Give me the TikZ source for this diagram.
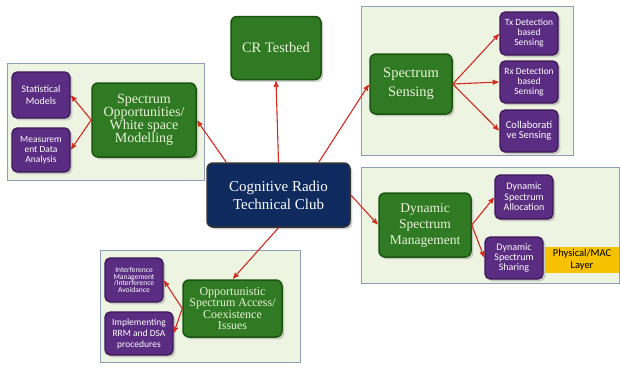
\documentclass[tikz,border=0pt]{standalone}
\usepackage{fontspec}
\setmainfont{Liberation Serif}
\setsansfont{Carlito}
\usepackage{xcolor}
\usetikzlibrary{shapes.misc, positioning, arrows, shadows}
\definecolor{panelfill}{HTML}{EEF4E2}
\definecolor{panelline}{HTML}{8E9DB9}
\definecolor{boxgreen}{HTML}{2F7A22}
\definecolor{greenline}{HTML}{1C5512}
\definecolor{greentext}{HTML}{EAF2DC}
\definecolor{boxpurple}{HTML}{5A2C82}
\definecolor{purpleline}{HTML}{3A1858}
\definecolor{boxnavy}{HTML}{0E2A5E}
\definecolor{arrowred}{HTML}{D42A1E}
\definecolor{layeryellow}{HTML}{F6C200}

\begin{document}
\begin{tikzpicture}[x=1pt,y=-1pt,>=stealth',shorten >=1pt,
        every node/.style={align=center,inner sep=2pt}]
        \tikzstyle{panel}=[draw=panelline,fill=panelfill,line width=1pt]
        \tikzstyle{greenbox}=[rectangle,rounded corners=6pt,fill=boxgreen,draw=greenline,line width=1.5pt,
                text=greentext,drop shadow={opacity=0.35}]
        \tikzstyle{purplebox}=[rectangle,rounded corners=5pt,fill=boxpurple,draw=purpleline,line width=1.2pt,
                text=white,font=\sffamily\fontsize{9.5}{10}\selectfont,drop shadow={opacity=0.35}]
        \tikzstyle{link}=[->,draw=arrowred,line width=1.1pt]
        \useasboundingbox[fill=white] (0,0) rectangle (620,370);

        % panels
        \draw[panel] (7,63) rectangle (204,180);
        \draw[panel] (361,6) rectangle (573,155);
        \draw[panel] (361,167) rectangle (619,283);
        \draw[panel] (100,250) rectangle (300,362);

        % centre
        \node[greenbox,fill=boxnavy,draw=black!80,text=white,minimum width=143pt,minimum height=64pt,
              font=\fontsize{15}{18}\selectfont](club) at (278.5,195){Cognitive Radio\\Technical Club};
        \node[greenbox,minimum width=90pt,minimum height=63pt,font=\fontsize{14.5}{17}\selectfont](test) at (276,48){CR Testbed};

        % white space modelling
        \node[greenbox,minimum width=104pt,minimum height=74pt,font=\fontsize{14}{13}\selectfont](opp) at (144,120)
              {Spectrum\\Opportunities/\\White space\\Modelling};
        \node[purplebox,minimum width=58pt,minimum height=46pt,font=\sffamily\fontsize{10}{12}\selectfont](stat) at (41,95)
              {Statistical\\Models};
        \node[purplebox,minimum width=58pt,minimum height=44pt](meas) at (41,150){Measurem\\ent Data\\Analysis};

        % sensing
        \node[greenbox,minimum width=82pt,minimum height=60pt,font=\fontsize{14.5}{19}\selectfont](sens) at (411,84)
              {Spectrum\\Sensing};
        \node[purplebox,minimum width=58pt,minimum height=43pt](tx) at (529,33.5){Tx Detection\\based\\Sensing};
        \node[purplebox,minimum width=58pt,minimum height=42pt](rx) at (529,82){Rx Detection\\based\\Sensing};
        \node[purplebox,minimum width=58pt,minimum height=42pt,font=\sffamily\fontsize{10.5}{10.5}\selectfont](coll) at (529,131)
              {Collaborati\\ve Sensing};

        % management
        \node[greenbox,minimum width=92pt,minimum height=64pt,font=\fontsize{13.5}{16}\selectfont](dsm) at (425,225)
              {Dynamic\\Spectrum\\Management};
        \node[purplebox,minimum width=58pt,minimum height=44pt,font=\sffamily\fontsize{10}{10.5}\selectfont](alloc) at (524,197)
              {Dynamic\\Spectrum\\Allocation};
        \node[purplebox,minimum width=58pt,minimum height=42pt,font=\sffamily\fontsize{10}{10}\selectfont](share) at (514,258)
              {Dynamic\\Spectrum\\Sharing};
        \node[fill=layeryellow,minimum width=74pt,minimum height=26pt,font=\sffamily\fontsize{10.5}{12}\selectfont](mac)
              at (582,260){Physical/MAC\\Layer};

        % access
        \node[greenbox,minimum width=99pt,minimum height=57pt,font=\fontsize{12}{11.5}\selectfont](osa) at (232.5,308.5)
              {Opportunistic\\Spectrum Access/\\Coexistence\\Issues};
        \node[purplebox,minimum width=58pt,minimum height=44pt,font=\sffamily\fontsize{7.5}{6.5}\selectfont](intf) at (134,280)
              {Interference\\Management\\/Interference\\Avoidance};
        \node[purplebox,minimum width=68pt,minimum height=43pt,font=\sffamily\fontsize{9.5}{11}\selectfont](rrm) at (139,333.5)
              {Implementing\\RRM and DSA\\procedures};

        % connectors
        \draw[link] (club.north) -- (test.south);
        \draw[link] ([xshift=20pt]club.north west) -- (opp.east);
        \draw[link] ([xshift=-32pt]club.north east) -- (sens.west);
        \draw[link] (club.east) -- (dsm.west);
        \draw[link] (club.south) -- (osa.north);
        \draw[link] (opp.west) -- (stat.east);
        \draw[link] (opp.west) -- (meas.east);
        \draw[link] (sens.east) -- (tx.west);
        \draw[link] (sens.east) -- (rx.west);
        \draw[link] (sens.east) -- (coll.west);
        \draw[link] (dsm.east) -- (alloc.west);
        \draw[link] (dsm.east) -- (share.west);
        \draw[link] (osa.west) -- (intf.east);
        \draw[link] (osa.west) -- (rrm.east);
     \end{tikzpicture}
\end{document}
